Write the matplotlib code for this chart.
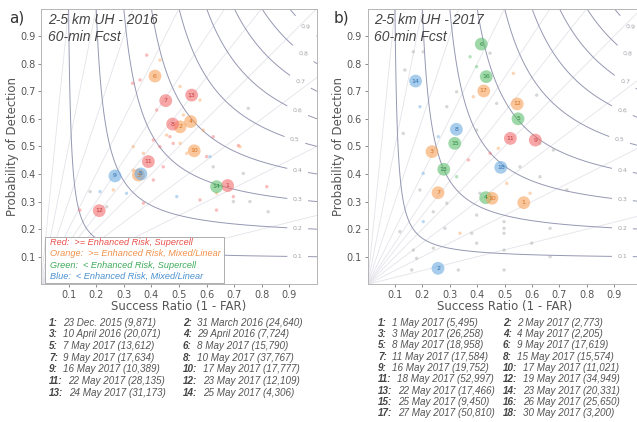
import numpy as np
import matplotlib.pyplot as plt

# --- data ---
# panel a: 2016 season, big numbered circles (SR, POD, group, case number)
big_a_x = [0.676, 0.504, 0.353, 0.542, 0.362, 0.413, 0.452, 0.477, 0.268, 0.555, 0.389, 0.211, 0.546, 0.636]
big_a_y = [0.358, 0.571, 0.396, 0.590, 0.400, 0.755, 0.666, 0.581, 0.393, 0.484, 0.445, 0.267, 0.686, 0.354]
big_a_c = ['r', 'o', 'o', 'o', 'b', 'o', 'r', 'r', 'b', 'o', 'r', 'r', 'r', 'g']
big_a_n = [1, 2, 3, 4, 5, 6, 7, 8, 9, 10, 11, 12, 13, 14]

# panel b: 2017 season
big_b_x = [0.570, 0.257, 0.235, 0.431, 0.549, 0.415, 0.257, 0.324, 0.612, 0.454, 0.521, 0.546, 0.278, 0.175, 0.318, 0.433, 0.424, 0.486]
big_b_y = [0.296, 0.058, 0.481, 0.314, 0.600, 0.871, 0.332, 0.562, 0.523, 0.312, 0.529, 0.654, 0.417, 0.737, 0.511, 0.753, 0.701, 0.424]
big_b_c = ['o', 'b', 'o', 'g', 'g', 'g', 'o', 'b', 'r', 'o', 'r', 'o', 'g', 'b', 'g', 'g', 'o', 'b']
big_b_n = list(range(1, 19))

# small points (individual objects)
small_a_x = [0.383, 0.431, 0.332, 0.359, 0.504, 0.576, 0.751, 0.419, 0.516, 0.588, 0.624, 0.715, 0.455, 0.407, 0.479,
             0.334, 0.528, 0.600, 0.467, 0.504, 0.431, 0.371, 0.612, 0.443, 0.334, 0.407, 0.262, 0.178, 0.214, 0.310,
             0.492, 0.576, 0.636, 0.697, 0.238, 0.141, 0.371, 0.636, 0.721, 0.733, 0.757, 0.697, 0.823, 0.624, 0.818]
small_a_y = [0.831, 0.813, 0.729, 0.741, 0.717, 0.668, 0.638, 0.632, 0.614, 0.559, 0.535, 0.503, 0.541, 0.523, 0.511,
             0.499, 0.475, 0.463, 0.535, 0.511, 0.499, 0.475, 0.463, 0.426, 0.414, 0.378, 0.342, 0.336, 0.336, 0.330,
             0.318, 0.306, 0.330, 0.318, 0.281, 0.269, 0.294, 0.269, 0.499, 0.402, 0.300, 0.300, 0.263, 0.426, 0.354]
small_a_c = "rorrookroorrorroorrorobrorokbbbrorkrrrokkkkkrkk"

small_b_x = [0.167, 0.203, 0.374, 0.447, 0.398, 0.532, 0.325, 0.386, 0.471, 0.191, 0.617, 0.289, 0.136, 0.130, 0.258,
             0.398, 0.447, 0.477, 0.629, 0.678, 0.368, 0.556, 0.203, 0.325, 0.629, 0.508, 0.191, 0.410, 0.593, 0.727,
             0.289, 0.118, 0.167, 0.179, 0.161, 0.331, 0.398, 0.498, 0.498, 0.498, 0.498, 0.498, 0.599, 0.666, 0.666,
             0.282, 0.337, 0.380, 0.240, 0.398, 0.203, 0.240]
small_b_y = [0.843, 0.843, 0.825, 0.838, 0.789, 0.765, 0.698, 0.680, 0.656, 0.644, 0.686, 0.644, 0.777, 0.547, 0.535,
             0.559, 0.475, 0.493, 0.511, 0.487, 0.451, 0.426, 0.402, 0.390, 0.390, 0.366, 0.342, 0.330, 0.330, 0.342,
             0.294, 0.191, 0.124, 0.094, 0.052, 0.052, 0.251, 0.227, 0.203, 0.185, 0.124, 0.052, 0.149, 0.203, 0.100,
             0.203, 0.185, 0.185, 0.131, 0.149, 0.227, 0.263]
small_b_c = "kkgkgokokbkkkkbkrokkrkbgkokkokkkkkkkkkkkkkkkkkokkkbk"

csi_levels = [0.1, 0.2, 0.3, 0.4, 0.5, 0.6, 0.7, 0.8, 0.9]
bias_values = [0.25, 0.5, 0.75, 1.0, 1.25, 1.5, 2.0, 3.0, 5.0, 10.0]

legend_lines = [("Red:  >= Enhanced Risk, Supercell", 'r'),
                ("Orange:  >= Enhanced Risk, Mixed/Linear", 'o'),
                ("Green:  < Enhanced Risk, Supercell", 'g'),
                ("Blue:  < Enhanced Risk, Mixed/Linear", 'b')]

cases_a = ["23 Dec. 2015 (9,871)", "31 March 2016 (24,640)", "10 April 2016 (20,071)", "29 April 2016 (7,724)",
           "7 May 2017 (13,612)", "8 May 2017 (15,790)", "9 May 2017 (17,634)", "10 May 2017 (37,767)",
           "16 May 2017 (10,389)", "17 May 2017 (17,777)", "22 May 2017 (28,135)", "23 May 2017 (12,109)",
           "24 May 2017 (31,173)", "25 May 2017 (4,306)"]
cases_b = ["1 May 2017 (5,495)", "2 May 2017 (2,773)", "3 May 2017 (26,258)", "4 May 2017 (2,205)",
           "8 May 2017 (18,958)", "9 May 2017 (17,619)", "11 May 2017 (17,584)", "15 May 2017 (15,574)",
           "16 May 2017 (19,752)", "17 May 2017 (11,021)", "18 May 2017 (52,997)", "19 May 2017 (34,949)",
           "22 May 2017 (17,466)", "23 May 2017 (20,331)", "25 May 2017 (9,450)", "26 May 2017 (25,650)",
           "27 May 2017 (50,810)", "30 May 2017 (3,200)"]

# colours
face = {'r': '#f26d6d', 'o': '#f7a25c', 'g': '#5fbf6f', 'b': '#6cabe0', 'k': '#a8a8a8'}
dark = {'r': '#c83c3c', 'o': '#d8701f', 'g': '#2e8a40', 'b': '#2f70b0', 'k': '#777777'}
leg_col = {'r': '#e8504a', 'o': '#f0904a', 'g': '#3caa5a', 'b': '#4a90d0'}

W, H = 637, 422
fig = plt.figure(figsize=(W / 100, H / 100), dpi=100)


def px_axes(l, t, r, b):
    return fig.add_axes([l / W, 1 - b / H, (r - l) / W, (b - t) / H])


def diagram(ax, titel, bx, by, bc, bn, sx, sy, sc):
    # bias lines
    sr_line = np.linspace(0.0, 1.0, 50)
    for b in bias_values:
        ax.plot(sr_line, b * sr_line, color='#e3e3ea', lw=0.6, zorder=1)

    # CSI contours
    sr = np.linspace(0.005, 1.0, 300)
    pod = np.linspace(0.005, 1.0, 300)
    SR, POD = np.meshgrid(sr, pod)
    csi = 1.0 / (1.0 / SR + 1.0 / POD - 1.0)
    cs = ax.contour(SR, POD, csi, levels=csi_levels, colors='#9598b2', linewidths=0.7, zorder=2)
    pos = [(0.93, 0.10), (0.93, 0.20), (0.93, 0.31), (0.93, 0.41), (0.92, 0.53),
           (0.93, 0.63), (0.94, 0.72), (0.95, 0.80), (0.96, 0.90)]
    ax.clabel(cs, fmt='%.1f', manual=pos, fontsize=4.5, inline=True, colors='#a0a0a8')

    for x, y, c in zip(sx, sy, sc):
        ax.scatter(x, y, s=6, color=face[c], alpha=0.45, edgecolors='none', marker='o', zorder=3)

    for x, y, c, n in zip(bx, by, bc, bn):
        ax.scatter(x, y, s=85, color=face[c], alpha=0.6, edgecolors='none', zorder=4)
        ax.text(x, y, str(n), fontsize=4.5, color=dark[c], ha='center', va='center', zorder=5)

    ax.set_xlim(0, 1)
    ax.set_ylim(0, 1)
    ticks = [0.1, 0.2, 0.3, 0.4, 0.5, 0.6, 0.7, 0.8, 0.9]
    ax.set_xticks(ticks)
    ax.set_yticks(ticks)
    ax.set_xticklabels([f"{t:.1f}" for t in ticks])
    ax.set_yticklabels([f"{t:.1f}" for t in ticks])
    ax.tick_params(labelsize=7, colors='#777777', labelcolor='#555555', length=2.5, width=0.6, pad=1.5)
    for s in ax.spines.values():
        s.set_color('#b5b5b5')
        s.set_linewidth(0.7)
    ax.set_xlabel('Success Ratio (1 - FAR)', fontsize=8.5, color='#555555', labelpad=0)
    ax.set_ylabel('Probability of Detection', fontsize=8.5, color='#555555', labelpad=1)

    for tekst, yy in [(titel, 0.945), ("60-min Fcst", 0.882)]:
        ax.text(0.025, yy, tekst, transform=ax.transAxes, fontsize=10,
                family='Liberation Sans', style='italic', color='#444444', va='baseline', ha='left',
                zorder=6)


ax_a = px_axes(41, 8.5, 317, 284.3)
ax_b = px_axes(367.6, 8.5, 641.6, 284.3)

diagram(ax_a, "2-5 km UH - 2016", big_a_x, big_a_y, big_a_c, big_a_n, small_a_x, small_a_y, small_a_c)
diagram(ax_b, "2-5 km UH - 2017", big_b_x, big_b_y, big_b_c, big_b_n, small_b_x, small_b_y, small_b_c)

fig.text(17 / W, 1 - 18 / H, "a)", fontsize=11, color='#333333', ha='center', va='center')
fig.text(341 / W, 1 - 18 / H, "b)", fontsize=11, color='#333333', ha='center', va='center')

# legend box in panel a
ax_a.add_patch(plt.Rectangle((0.015, 0.005), 0.648, 0.167, transform=ax_a.transAxes,
                             facecolor='white', edgecolor='#a0a0a0', lw=0.6, zorder=6))
for i, (txt, c) in enumerate(legend_lines):
    ax_a.text(0.033, 0.152 - i * 0.0415, txt, transform=ax_a.transAxes, fontsize=6.6,
              family='Liberation Sans', style='italic', color=leg_col[c], va='center', zorder=7)


# case tables
def tabelka(cases, col_x, top, step):
    for i, txt in enumerate(cases):
        x = col_x[i % 2] / W
        y = 1 - (top + (i // 2) * step) / H
        t = fig.text(x, y, f"{i + 1}:", fontsize=7.1, family='Liberation Sans', style='italic',
                     weight='bold', color='#444444', va='center')
        plt.annotate(txt, xy=(1, 0.5), xycoords=t, xytext=(4, 0), textcoords='offset points',
                     fontsize=7.1, family='Liberation Sans', style='italic', color='#555555',
                     va='center', annotation_clip=False)


tabelka(cases_a, [49, 183], 322.7, 11.7)
tabelka(cases_b, [378, 503], 322.7, 11.3)

fig.savefig('out.png', dpi=100)
